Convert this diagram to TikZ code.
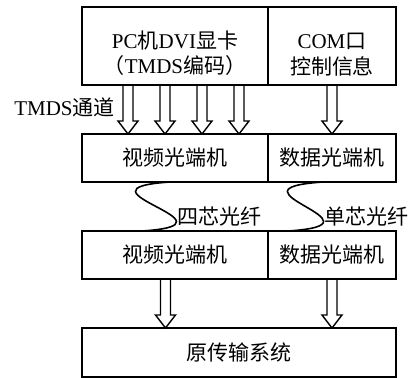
\documentclass[tikz,border=0pt]{standalone}
\usepackage{fontspec}
\setmainfont{Liberation Serif}
\newfontfamily\cjk{Noto Sans CJK SC}
\usetikzlibrary{positioning}
\usetikzlibrary{calc}
\newcommand{\cn}[1]{{\cjk #1}}
\tikzstyle{block} = [rectangle,fill=white,draw=black,line width=0.8pt,
inner sep=0pt, outer sep=0pt, align=center,
font=\fontsize{10.5}{13}\selectfont, node distance=24.5pt]
\tikzstyle{wide} = [block, minimum width=93pt]
\tikzstyle{narrow} = [block, minimum width=64pt]
\tikzstyle{caption} = [inner sep=0pt, font=\fontsize{10.5}{13}\selectfont]
\tikzstyle{arrowline} = [draw=black, line width=0.7pt, line join=miter]
\tikzstyle{fibreline} = [draw=black, line width=0.8pt]
\newcommand{\hollowarrow}[3]{ %
  % Hollow arrows from node #1 down to node #2, x offsets #3 from #1.
  \foreach \d in {#3} { %
    \coordinate (top) at ($(#1.south)+(\d,0)$) ;
    \coordinate (tip) at (top |- #2.north) ;
    \draw[arrowline] ($(top)+(-5,0)$) -- ($(tip)+(-5,-13)$) -- ($(tip)+(-10,-13)$)
      -- (tip) -- ($(tip)+(10,-13)$) -- ($(tip)+(5,-13)$) -- ($(top)+(5,0)$) ;%
  } ;
}
\newcommand{\fibre}[4]{ %
  % S-shaped fibre from node #1 (offset #2) to node #3 (offset #4).
  \draw[fibreline] ($(#1.south)+(#2,0)$) .. controls +(-107,7) and +(107,-7)
    .. ($(#3.north)+(#4,0)$) ;%
}

\begin{document}
\begin{tikzpicture}[x=0.5pt, y=-0.5pt]
  \useasboundingbox (0,0) rectangle (408,377);

  \node[wide, minimum height=39pt] (pc) at (175,46)
    {\rule{0pt}{16pt}PC\cn{机}DVI\cn{显卡}\\\cn{（}TMDS\cn{编码）}};
  \node[narrow, minimum height=39pt, right=0pt of pc] (com)
    {\rule{0pt}{16pt}COM\cn{口}\\\cn{控制信息}};

  \node[wide, minimum height=24pt, below=of pc] (vid1) {\cn{视频光端机}};
  \node[narrow, minimum height=24pt, below=of com] (dat1) {\cn{数据光端机}};
  \node[wide, minimum height=24pt, below=of vid1] (vid2) {\cn{视频光端机}};
  \node[narrow, minimum height=24pt, below=of dat1] (dat2) {\cn{数据光端机}};

  \node[block, minimum width=157pt, minimum height=24.5pt,
    below right=24.5pt and 0pt of vid2.south west] (sys) {\cn{原传输系统}};

  \hollowarrow {pc} {vid1} {-47,-10,27,64};
  \hollowarrow {com} {dat1} {0};
  \hollowarrow {vid2} {sys} {-9.5};
  \hollowarrow {dat2} {sys} {0};

  \fibre {vid1} {-5} {vid2} {-33};
  \fibre {dat1} {-9} {dat2} {-44};

  \node[caption, anchor=east] (tmds) at (115,107) {TMDS\cn{通道}};
  \node[caption, anchor=west] (four) at (177,217) {\cn{四芯光纤}};
  \node[caption, anchor=west] (single) at (324,217) {\cn{单芯光纤}};
\end{tikzpicture}
\end{document}
